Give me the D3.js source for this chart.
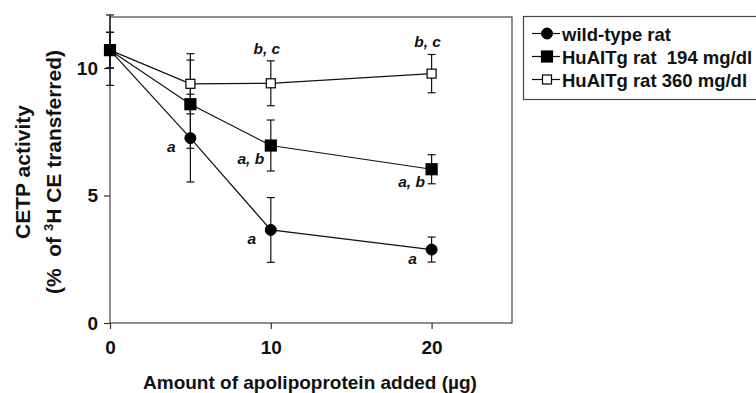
<!DOCTYPE html>
<html lang="en">
<head>
    <meta charset="UTF-8">
    <title>CETP activity</title>
    <script src="https://d3js.org/d3.v7.min.js"></script>
    <style>
        body { margin: 0; background: white; }
        svg { display: block; font-family: "Liberation Sans", Arial, sans-serif; }
        .axis text { font-size: 19px; font-weight: bold; fill: #111; }
        .axis path, .axis line { stroke: #333; stroke-width: 1.2px; }
    </style>
</head>
<body>
    <div id="chart"></div>
    <script>
        // doses (x values) and tick labels
        const doses = [0, 5, 10, 20];
        const xTicks = [0, 10, 20];
        const yTicks = [0, 5, 10];

        // series means and error (SD)
        const wildMean = [10.7, 7.25, 3.65, 2.88];
        const wildErr = [0.7, 1.72, 1.27, 0.49];
        const tg194Mean = [10.7, 8.58, 6.96, 6.03];
        const tg194Err = [1.38, 1.73, 1.0, 0.57];
        const tg360Mean = [10.7, 9.38, 9.4, 9.78];
        const tg360Err = [0.7, 1.18, 0.88, 0.75];

        // significance letters
        const wildSig = ["", "a", "a", "a"];
        const tg194Sig = ["", "", "a, b", "a, b"];
        const tg360Sig = ["", "", "b, c", "b, c"];

        const seriesNames = ["wild-type rat", "HuAITg rat  194 mg/dl", "HuAITg rat 360 mg/dl"];

        const W = 756, H = 393;
        const svg = d3.select("#chart").append("svg")
            .attr("width", W).attr("height", H);

        const x = d3.scaleLinear().domain([0, 25]).range([110, 512]);
        const y = d3.scaleLinear().domain([0, 12]).range([323, 17]);

        // plot frame
        svg.append("rect")
            .attr("x", x(0)).attr("y", y(12))
            .attr("width", x(25) - x(0)).attr("height", y(0) - y(12))
            .attr("fill", "none").attr("stroke", "#444").attr("stroke-width", 1.2);

        // axes
        svg.append("g").attr("class", "axis")
            .attr("transform", `translate(${x(0)},0)`)
            .call(d3.axisLeft(y).tickValues(yTicks).tickSize(6).tickSizeOuter(0).tickPadding(6))
            .call(g => g.select(".domain").remove());

        svg.append("g").attr("class", "axis")
            .attr("transform", `translate(0,${y(0)})`)
            .call(d3.axisBottom(x).tickValues(xTicks).tickSize(6).tickSizeOuter(0).tickPadding(12))
            .call(g => g.select(".domain").remove());

        // axis titles
        svg.append("text")
            .attr("x", 310).attr("y", 389)
            .attr("text-anchor", "middle")
            .style("font-size", "19px").style("font-weight", "bold").attr("fill", "#111")
            .text("Amount of apolipoprotein added (µg)");

        const yt = svg.append("g").attr("transform", "translate(0,172) rotate(-90)")
            .style("font-weight", "bold").attr("fill", "#111");
        yt.append("text").attr("x", 0).attr("y", 30)
            .attr("text-anchor", "middle").style("font-size", "21px")
            .text("CETP activity");
        const t2 = yt.append("text").attr("x", 0).attr("y", 61)
            .attr("text-anchor", "middle").style("font-size", "21px")
            .attr("xml:space", "preserve");
        t2.append("tspan").text("(%  of ");
        t2.append("tspan").attr("dy", -8).style("font-size", "13px").text("3");
        t2.append("tspan").attr("dy", 8).text("H CE transferred)");

        const series = [
            { name: seriesNames[0], mean: wildMean, err: wildErr, sig: wildSig, shape: "circle", fill: "#000" },
            { name: seriesNames[1], mean: tg194Mean, err: tg194Err, sig: tg194Sig, shape: "square", fill: "#000" },
            { name: seriesNames[2], mean: tg360Mean, err: tg360Err, sig: tg360Sig, shape: "square", fill: "#fff" }
        ];

        const line = d3.line().x(d => x(d[0])).y(d => y(d[1]));

        function drawMarker(g, shape, fill, cx, cy) {
            if (shape === "circle") {
                g.append("circle").attr("cx", cx).attr("cy", cy).attr("r", 5.5)
                    .attr("fill", fill).attr("stroke", "#000").attr("stroke-width", 1);
            } else {
                const s = fill === "#fff" ? 9 : 11;
                g.append("rect").attr("x", cx - s / 2).attr("y", cy - s / 2)
                    .attr("width", s).attr("height", s)
                    .attr("fill", fill).attr("stroke", "#000").attr("stroke-width", 1.2);
            }
        }

        // error bars first
        series.forEach(s => {
            const g = svg.append("g").attr("stroke", "#111").attr("stroke-width", 1.2);
            doses.forEach((d, i) => {
                const top = y(s.mean[i] + s.err[i]), bot = y(s.mean[i] - s.err[i]);
                g.append("line").attr("x1", x(d)).attr("x2", x(d)).attr("y1", top).attr("y2", bot);
                g.append("line").attr("x1", x(d) - 4).attr("x2", x(d) + 4).attr("y1", top).attr("y2", top);
                g.append("line").attr("x1", x(d) - 4).attr("x2", x(d) + 4).attr("y1", bot).attr("y2", bot);
            });
        });

        // lines
        series.forEach(s => {
            svg.append("path")
                .datum(doses.map((d, i) => [d, s.mean[i]]))
                .attr("d", line).attr("fill", "none")
                .attr("stroke", "#111").attr("stroke-width", 1.2);
        });

        // markers (open squares on top)
        [2, 1, 0].forEach(k => {
            const s = series[k];
            const g = svg.append("g");
            doses.forEach((d, i) => drawMarker(g, s.shape, s.fill, x(d), y(s.mean[i])));
        });

        // significance labels
        const sigStyle = sel => sel.attr("text-anchor", "middle")
            .style("font-size", "15.5px").style("font-weight", "bold").style("font-style", "italic")
            .attr("fill", "#111");
        doses.forEach((d, i) => {
            if (wildSig[i]) svg.append("text").call(sigStyle)
                .attr("x", x(d) - 19).attr("y", y(wildMean[i]) + 14).text(wildSig[i]);
            if (tg194Sig[i]) svg.append("text").call(sigStyle)
                .attr("x", x(d) - 20).attr("y", y(tg194Mean[i]) + 18).text(tg194Sig[i]);
            if (tg360Sig[i]) svg.append("text").call(sigStyle)
                .attr("x", x(d) - 4).attr("y", y(tg360Mean[i] + tg360Err[i]) - 7).text(tg360Sig[i]);
        });

        // legend
        const lg = svg.append("g");
        lg.append("rect").attr("x", 523.5).attr("y", 16.5).attr("width", 300).attr("height", 83)
            .attr("fill", "none").attr("stroke", "#444").attr("stroke-width", 1.2);
        series.forEach((s, i) => {
            const cy = 33.5 + i * 23;
            lg.append("line").attr("x1", 532).attr("x2", 560).attr("y1", cy).attr("y2", cy)
                .attr("stroke", "#111").attr("stroke-width", 1.2);
            drawMarker(lg, s.shape, s.fill, 547, cy);
            lg.append("text").attr("x", 562).attr("y", cy + 7)
                .attr("xml:space", "preserve")
                .style("font-size", "18.5px").style("font-weight", "bold").attr("fill", "#111")
                .text(s.name);
        });
    </script>
</body>
</html>
